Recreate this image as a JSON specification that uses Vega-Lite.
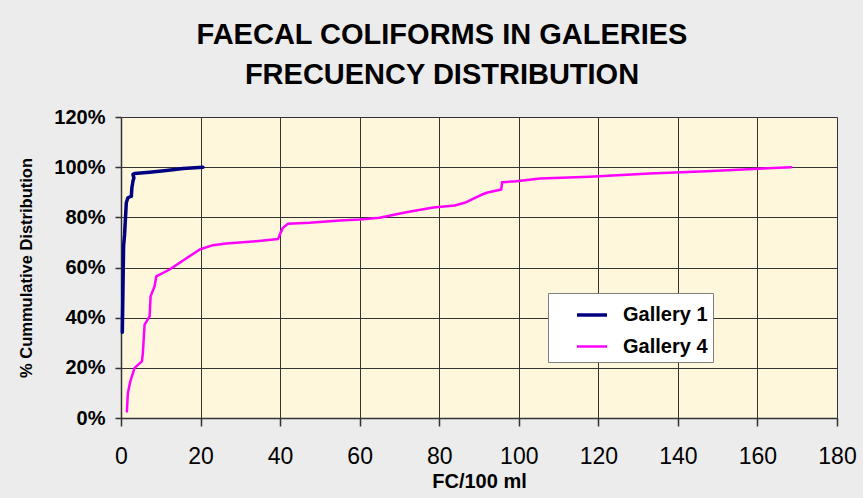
{
  "$schema": "https://vega.github.io/schema/vega-lite/v6.json",
  "width": 716,
  "height": 301,
  "autosize": {"type": "none"},
  "padding": {"left": 121, "top": 117, "right": 26, "bottom": 80},
  "background": "#ECECEC",
  "title": {
    "text": ["FAECAL COLIFORMS IN GALERIES", "FRECUENCY DISTRIBUTION"],
    "font": "Liberation Sans",
    "fontSize": 29,
    "fontWeight": "bold",
    "color": "#000000",
    "lineHeight": 40,
    "anchor": "middle",
    "baseline": "bottom",
    "offset": -12,
    "dx": -37
  },
  "config": {
    "view": {"fill": "#FFF7DC", "stroke": null},
    "axis": {
      "gridColor": "#333333",
      "gridOpacity": 1,
      "gridWidth": 1,
      "domainColor": "#333333",
      "domainWidth": 1.5,
      "tickColor": "#333333",
      "tickWidth": 1.5,
      "labelColor": "#000000",
      "titleColor": "#000000",
      "labelFont": "Liberation Sans",
      "titleFont": "Liberation Sans"
    }
  },
  "data": {
    "values": [
      {"s": "Gallery 1", "i": 1, "x": 0.33, "y": 34.2},
      {"s": "Gallery 1", "i": 2, "x": 0.48, "y": 49.9},
      {"s": "Gallery 1", "i": 3, "x": 0.65, "y": 68.5},
      {"s": "Gallery 1", "i": 4, "x": 0.9, "y": 73.1},
      {"s": "Gallery 1", "i": 5, "x": 1.33, "y": 85.8},
      {"s": "Gallery 1", "i": 6, "x": 1.73, "y": 87.8},
      {"s": "Gallery 1", "i": 7, "x": 2.6, "y": 88.4},
      {"s": "Gallery 1", "i": 8, "x": 2.74, "y": 91.8},
      {"s": "Gallery 1", "i": 9, "x": 3.0, "y": 94.4},
      {"s": "Gallery 1", "i": 10, "x": 3.24, "y": 95.8},
      {"s": "Gallery 1", "i": 11, "x": 3.0, "y": 97.1},
      {"s": "Gallery 1", "i": 12, "x": 3.4, "y": 97.5},
      {"s": "Gallery 1", "i": 13, "x": 7.2, "y": 98.0},
      {"s": "Gallery 1", "i": 14, "x": 11.4, "y": 98.7},
      {"s": "Gallery 1", "i": 15, "x": 15.6, "y": 99.5},
      {"s": "Gallery 1", "i": 16, "x": 20.6, "y": 100},
      {"s": "Gallery 4", "i": 1, "x": 1.48, "y": 2.6},
      {"s": "Gallery 4", "i": 2, "x": 1.73, "y": 10.0},
      {"s": "Gallery 4", "i": 3, "x": 2.34, "y": 14.6},
      {"s": "Gallery 4", "i": 4, "x": 3.42, "y": 20.0},
      {"s": "Gallery 4", "i": 5, "x": 5.26, "y": 22.6},
      {"s": "Gallery 4", "i": 6, "x": 5.5, "y": 25.9},
      {"s": "Gallery 4", "i": 7, "x": 5.93, "y": 37.2},
      {"s": "Gallery 4", "i": 8, "x": 7.19, "y": 40.5},
      {"s": "Gallery 4", "i": 9, "x": 7.44, "y": 48.5},
      {"s": "Gallery 4", "i": 10, "x": 8.45, "y": 52.5},
      {"s": "Gallery 4", "i": 11, "x": 8.88, "y": 56.5},
      {"s": "Gallery 4", "i": 12, "x": 12.2, "y": 59.2},
      {"s": "Gallery 4", "i": 13, "x": 19.8, "y": 67.2},
      {"s": "Gallery 4", "i": 14, "x": 23.1, "y": 68.9},
      {"s": "Gallery 4", "i": 15, "x": 26.5, "y": 69.6},
      {"s": "Gallery 4", "i": 16, "x": 34.0, "y": 70.5},
      {"s": "Gallery 4", "i": 17, "x": 39.5, "y": 71.4},
      {"s": "Gallery 4", "i": 18, "x": 39.9, "y": 73.1},
      {"s": "Gallery 4", "i": 19, "x": 40.7, "y": 75.8},
      {"s": "Gallery 4", "i": 20, "x": 42.0, "y": 77.4},
      {"s": "Gallery 4", "i": 21, "x": 47.4, "y": 77.8},
      {"s": "Gallery 4", "i": 22, "x": 55.0, "y": 78.7},
      {"s": "Gallery 4", "i": 23, "x": 60.0, "y": 79.1},
      {"s": "Gallery 4", "i": 24, "x": 65.0, "y": 79.8},
      {"s": "Gallery 4", "i": 25, "x": 71.7, "y": 82.0},
      {"s": "Gallery 4", "i": 26, "x": 78.5, "y": 83.9},
      {"s": "Gallery 4", "i": 27, "x": 83.9, "y": 84.7},
      {"s": "Gallery 4", "i": 28, "x": 86.4, "y": 85.8},
      {"s": "Gallery 4", "i": 29, "x": 90.2, "y": 88.7},
      {"s": "Gallery 4", "i": 30, "x": 91.9, "y": 89.8},
      {"s": "Gallery 4", "i": 31, "x": 95.6, "y": 91.1},
      {"s": "Gallery 4", "i": 32, "x": 95.8, "y": 94.0},
      {"s": "Gallery 4", "i": 33, "x": 99.4, "y": 94.4},
      {"s": "Gallery 4", "i": 34, "x": 105.3, "y": 95.5},
      {"s": "Gallery 4", "i": 35, "x": 117.8, "y": 96.2},
      {"s": "Gallery 4", "i": 36, "x": 132.9, "y": 97.5},
      {"s": "Gallery 4", "i": 37, "x": 147.2, "y": 98.4},
      {"s": "Gallery 4", "i": 38, "x": 168.5, "y": 100}
    ]
  },
  "mark": {"type": "line", "interpolate": "linear", "strokeJoin": "round", "strokeCap": "round"},
  "encoding": {
    "x": {
      "field": "x",
      "type": "quantitative",
      "scale": {"domain": [0, 180], "nice": false, "zero": true},
      "axis": {
        "values": [0, 20, 40, 60, 80, 100, 120, 140, 160, 180],
        "title": "FC/100 ml",
        "titleFontSize": 20,
        "titleFontWeight": "bold",
        "titlePadding": 3,
        "labelFontSize": 23,
        "labelFontWeight": "normal",
        "labelPadding": 19,
        "tickSize": 8,
        "labelFlush": false,
        "labelOverlap": false
      }
    },
    "y": {
      "field": "y",
      "type": "quantitative",
      "scale": {"domain": [0, 120], "nice": false},
      "axis": {
        "values": [0, 20, 40, 60, 80, 100, 120],
        "labelExpr": "datum.value + '%'",
        "title": "% Cummulative Distribution",
        "titleFontSize": 16.5,
        "titleFontWeight": "bold",
        "titlePadding": 19,
        "labelFontSize": 20,
        "labelFontWeight": "bold",
        "labelPadding": 10,
        "tickSize": 6,
        "labelFlush": false,
        "labelOverlap": false
      }
    },
    "order": {"field": "i", "type": "quantitative"},
    "color": {
      "field": "s",
      "type": "nominal",
      "scale": {"domain": ["Gallery 1", "Gallery 4"], "range": ["#000080", "#FF00FF"]},
      "legend": {
        "title": null,
        "orient": "none",
        "legendX": 427,
        "legendY": 176,
        "fillColor": "#FFFFFF",
        "strokeColor": "#808080",
        "padding": 5,
        "symbolType": "stroke",
        "symbolSize": 900,
        "symbolStrokeWidth": 3,
        "symbolOffset": 22,
        "labelFont": "Liberation Sans",
        "labelFontSize": 20,
        "labelFontWeight": "bold",
        "labelColor": "#000000",
        "labelOffset": 14,
        "rowPadding": 5,
        "encode": {
          "symbols": {"update": {"strokeWidth": {"signal": "datum.value === 'Gallery 1' ? 3.5 : 2.5"}}}
        }
      }
    },
    "strokeWidth": {
      "field": "s",
      "type": "nominal",
      "scale": {"domain": ["Gallery 1", "Gallery 4"], "range": [3.5, 2.5]},
      "legend": null
    }
  }
}
